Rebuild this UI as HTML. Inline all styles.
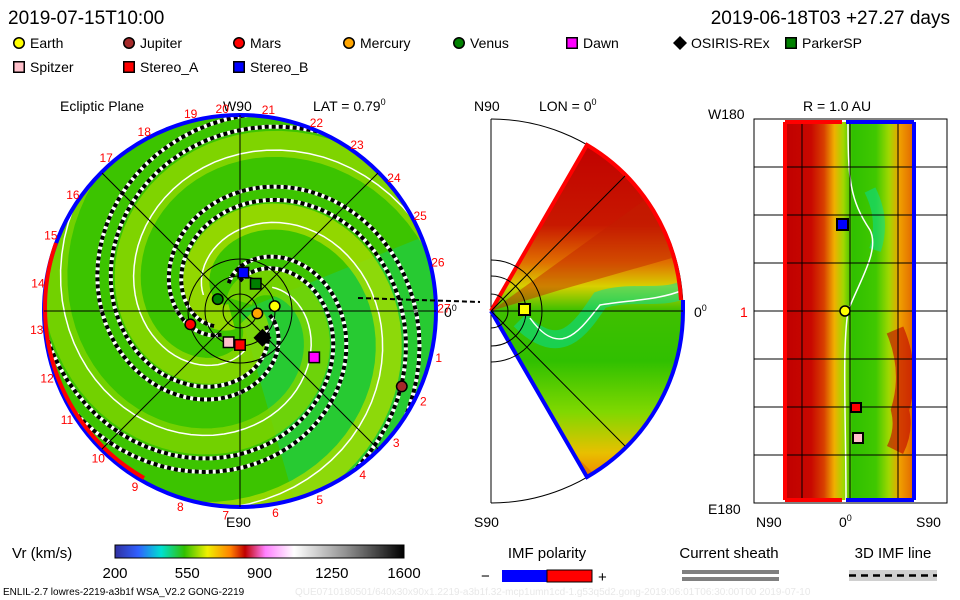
<!DOCTYPE html>
<html><head><meta charset="utf-8">
<style>
body{margin:0;background:#fff;width:960px;height:600px;overflow:hidden;font-family:"Liberation Sans",sans-serif}
svg{display:block}
text{font-family:"Liberation Sans",sans-serif}
</style></head><body>
<svg id="chart" width="960" height="600" viewBox="0 0 960 600">
<defs>
<clipPath id="circ"><circle cx="240" cy="311" r="196"/></clipPath>
<clipPath id="wedge"><path d="M491,311 L587,145 A192,192 0 0 1 683,311 A192,192 0 0 1 587,477 Z"/></clipPath>
<linearGradient id="cbar" x1="0" x2="1">
<stop offset="0" stop-color="#3030a0"/><stop offset="0.08" stop-color="#3060ff"/><stop offset="0.16" stop-color="#00e0d0"/><stop offset="0.24" stop-color="#30c000"/><stop offset="0.32" stop-color="#f0f000"/><stop offset="0.40" stop-color="#ff8000"/><stop offset="0.45" stop-color="#c00000"/><stop offset="0.52" stop-color="#ff80ff"/><stop offset="0.62" stop-color="#ffffff"/><stop offset="0.8" stop-color="#909090"/><stop offset="1" stop-color="#000000"/>
</linearGradient>
<linearGradient id="wedgeGrad" x1="0" y1="0" x2="0" y2="1">
<stop offset="0" stop-color="#c00000"/><stop offset="0.25" stop-color="#c81800"/><stop offset="0.36" stop-color="#e07000"/><stop offset="0.43" stop-color="#d8d000"/><stop offset="0.5" stop-color="#40c000"/><stop offset="0.65" stop-color="#30c000"/><stop offset="0.8" stop-color="#80d800"/><stop offset="0.92" stop-color="#e8c000"/><stop offset="1" stop-color="#f08000"/>
</linearGradient>
<linearGradient id="stripGrad" x1="0" x2="1">
<stop offset="0" stop-color="#c00000"/><stop offset="0.2" stop-color="#c80800"/><stop offset="0.3" stop-color="#d84000"/><stop offset="0.38" stop-color="#f0b000"/><stop offset="0.45" stop-color="#a0d800"/><stop offset="0.52" stop-color="#30c000"/><stop offset="0.7" stop-color="#40c800"/><stop offset="0.8" stop-color="#a0d800"/><stop offset="0.88" stop-color="#f0a000"/><stop offset="1" stop-color="#e06000"/>
</linearGradient>
</defs>

<text x="8" y="24" font-size="19">2019-07-15T10:00</text>
<text x="950" y="24" font-size="19" text-anchor="end">2019-06-18T03 +27.27 days</text>

<g id="legend" font-size="14"></g>

<!-- ecliptic panel -->
<text x="60" y="111" font-size="14">Ecliptic Plane</text>
<text x="223" y="111" font-size="14">W90</text>
<text x="313" y="111" font-size="14">LAT = 0.79<tspan dy="-6" font-size="9">0</tspan></text>
<g clip-path="url(#circ)">
<circle cx="240" cy="311" r="196" fill="#3cc400"/>
<path d="M240,311 L440,230 L440,520 L300,520 Z" fill="#00d890" opacity="0.35"/>
<g id="bands"></g>
<g id="spirals"></g>
</g>
<circle cx="240" cy="311" r="196" fill="none" stroke="#0000ff" stroke-width="4"/>
<path d="M56,243 A196,196 0 0 0 144,478" fill="none" stroke="#ff0000" stroke-width="4"/>
<g stroke="#000" stroke-width="1" fill="none">
<line x1="240" y1="115" x2="240" y2="507"/><line x1="44" y1="311" x2="436" y2="311"/>
<line x1="102" y1="173" x2="378" y2="449"/><line x1="378" y1="173" x2="102" y2="449"/>
<circle cx="240" cy="311" r="17"/><circle cx="240" cy="311" r="35"/><circle cx="240" cy="311" r="52"/>
</g>
<line x1="358" y1="298" x2="480" y2="302" stroke="#000" stroke-width="2" stroke-dasharray="5,3"/>
<text x="444" y="317" font-size="14">0<tspan dy="-6" font-size="9">0</tspan></text>
<text x="226" y="527" font-size="14">E90</text>
<g id="ticks" fill="#ff0000" font-size="12"></g>
<g id="markers"></g>

<!-- meridional panel -->
<text x="474" y="111" font-size="14">N90</text>
<text x="539" y="111" font-size="14">LON = 0<tspan dy="-6" font-size="9">0</tspan></text>
<g>
<path d="M491,119 L491,503" stroke="#000" fill="none"/>
<path d="M491,119 A192,192 0 0 1 491,503" stroke="#000" fill="none"/>
<g clip-path="url(#wedge)">
<rect x="490" y="140" width="200" height="340" fill="url(#wedgeGrad)"/>
<path d="M491,311 L700,160 L700,250 L560,290 Z" fill="#c02000" opacity="0.45"/>
<path d="M491,370 L560,440 L600,480 L491,480 Z" fill="#d05000" opacity="0.4"/>
<path d="M520,320 C560,360 580,330 600,300 C630,290 660,300 683,290" stroke="#00e0a0" stroke-width="18" fill="none" opacity="0.5"/>
<path d="M530,318 C560,360 580,330 600,305 C630,300 660,300 683,290" stroke="#fff" stroke-width="1.5" fill="none"/>
</g>
<path d="M491,311 L587,145 A192,192 0 0 1 681,300" stroke="#ff0000" stroke-width="4" fill="none"/>
<path d="M491,311 L587,477 A192,192 0 0 0 683,311 L683,300" stroke="#0000ff" stroke-width="4" fill="none"/>
<g stroke="#000" fill="none">
<line x1="491" y1="311" x2="683" y2="311"/><line x1="491" y1="311" x2="625" y2="176"/><line x1="491" y1="311" x2="625" y2="446"/>
<path d="M491,260 A51,51 0 0 1 491,362"/><path d="M491,276 A35,35 0 0 1 491,346"/><path d="M491,294 A17,17 0 0 1 491,328"/>
</g>
<rect x="519" y="304" width="11" height="11" fill="#ffff00" stroke="#000" stroke-width="2"/>
</g>
<text x="694" y="317" font-size="14">0<tspan dy="-6" font-size="9">0</tspan></text>
<text x="474" y="527" font-size="14">S90</text>

<!-- radial panel -->
<text x="803" y="111" font-size="14">R = 1.0 AU</text>
<text x="708" y="119" font-size="14">W180</text>
<text x="708" y="514" font-size="14">E180</text>
<text x="740" y="317" font-size="14" fill="#ff0000">1</text>
<g>
<rect x="754" y="119" width="193" height="384" fill="#fff" stroke="#000"/>
<rect x="785" y="122" width="130" height="378" fill="url(#stripGrad)"/>
<path d="M895,330 Q912,370 900,410 Q905,430 895,450" stroke="#c00000" stroke-width="18" fill="none" opacity="0.6"/>
<path d="M870,190 Q885,220 875,250" stroke="#00e0a0" stroke-width="12" fill="none" opacity="0.5"/>
<path d="M848,122 C848,180 850,200 870,230 C880,250 860,280 848,311 C842,350 846,420 846,500" stroke="#fff" stroke-width="1.5" fill="none"/>
<g id="rgrid" stroke="#000"></g>
<line x1="785" y1="122" x2="785" y2="500" stroke="#ff0000" stroke-width="4"/>
<line x1="785" y1="122" x2="842" y2="122" stroke="#ff0000" stroke-width="4"/>
<line x1="785" y1="500" x2="842" y2="500" stroke="#ff0000" stroke-width="4"/>
<line x1="914" y1="122" x2="914" y2="500" stroke="#0000ff" stroke-width="4"/>
<line x1="846" y1="122" x2="914" y2="122" stroke="#0000ff" stroke-width="4"/>
<line x1="846" y1="500" x2="914" y2="500" stroke="#0000ff" stroke-width="4"/>
<rect x="837" y="219" width="11" height="11" fill="#0000ff" stroke="#000" stroke-width="2"/>
<circle cx="845" cy="311" r="5" fill="#ffff00" stroke="#000" stroke-width="1.5"/>
<rect x="851" y="403" width="10" height="9" fill="#ff0000" stroke="#000" stroke-width="2"/>
<rect x="853" y="433" width="10" height="10" fill="#ffc0cb" stroke="#000" stroke-width="2"/>
</g>
<text x="756" y="527" font-size="14">N90</text>
<text x="839" y="527" font-size="14">0<tspan dy="-6" font-size="9">0</tspan></text>
<text x="916" y="527" font-size="14">S90</text>

<!-- bottom legend -->
<text x="12" y="558" font-size="15">Vr (km/s)</text>
<rect x="115" y="545" width="289" height="13" fill="url(#cbar)" stroke="#000"/>
<g id="cticks" font-size="15" text-anchor="middle"></g>
<text x="547" y="558" font-size="15" text-anchor="middle">IMF polarity</text>
<text x="481" y="581" font-size="15">−</text>
<rect x="502" y="570" width="45" height="12" fill="#0000ff"/>
<rect x="547" y="570" width="45" height="12" fill="#ff0000" stroke="#000"/>
<text x="598" y="582" font-size="15">+</text>
<text x="729" y="558" font-size="15" text-anchor="middle">Current sheath</text>
<rect x="682" y="570" width="97" height="4" fill="#808080"/>
<rect x="682" y="577" width="97" height="4" fill="#808080"/>
<text x="893" y="558" font-size="15" text-anchor="middle">3D IMF line</text>
<rect x="849" y="570" width="88" height="11" fill="#d0d0d0"/>
<line x1="849" y1="575.5" x2="937" y2="575.5" stroke="#000" stroke-width="2.5" stroke-dasharray="7,5"/>
<text x="3" y="595" font-size="10">ENLIL-2.7 lowres-2219-a3b1f WSA_V2.2 GONG-2219</text>
<text x="295" y="595" font-size="10" fill="#e8e8e8">QUE0710180501/640x30x90x1.2219-a3b1f.32-mcp1umn1cd-1.g53q5d2.gong-2019:06:01T06:30:00T00   2019-07-10</text>
</svg>
<script>
const NS="http://www.w3.org/2000/svg";
const legendNames=["Earth","Jupiter","Mars","Mercury","Venus","Dawn","OSIRIS-REx","ParkerSP","Spitzer","Stereo_A","Stereo_B"];
const legendColors=["#ffff00","#a52a2a","#ff0000","#ffa500","#008000","#ff00ff","#000000","#008000","#ffc0cb","#ff0000","#0000ff"];
const legendShapes=["c","c","c","c","c","s","d","s","s","s","s"];
const legendX=[12,122,232,342,452,565,673,784,12,122,232];
const legendY=[48,48,48,48,48,48,48,48,72,72,72];
// markers in ecliptic plane: screen angle (deg, clockwise from +x) and radius in AU (1 AU = 35px)
const mkAngle=[-8,25,165,8,-152,32,50,-60,110,90,-85];
const mkRadius=[1.0,5.1,1.47,0.5,0.72,2.5,1.0,0.9,0.95,0.97,1.1];
const spiralPhase=[-40,80,200];
const bandPhase=[10,130,250];
const bandColor=["#90d800","#a8dc00","#80d400"];
const tickLabels=["20","21","22","23","24","25","26","27","1","2","3","4","5","6","7","8","9","10","11","12","13","14","15","16","17","18","19"];
const tickAngle=[-95,-82,-68,-55,-41,-28,-14,-1,13,26,40,53,67,80,94,107,121,134,148,161,175,188,202,215,229,242,256];
const cbTicks=[200,550,900,1250,1600];
const cx=240,cy=311,R=196,AU=35;
function make(tag,attrs,parent){const e=document.createElementNS(NS,tag);for(const k in attrs)e.setAttribute(k,attrs[k]);parent.appendChild(e);return e;}
function pol(a,r){const t=a*Math.PI/180;return [cx+r*Math.cos(t),cy+r*Math.sin(t)];}
function marker(shape,x,y,color,parent,size){
  let e;
  if(shape==="c") e=make("circle",{cx:x,cy:y,r:size*0.75,fill:color,stroke:"#000","stroke-width":1.5},parent);
  else if(shape==="s") e=make("rect",{x:x-size*0.75,y:y-size*0.75,width:size*1.5,height:size*1.5,fill:color,stroke:"#000","stroke-width":1.5},parent);
  else e=make("path",{d:`M${x},${y-size} L${x+size},${y} L${x},${y+size} L${x-size},${y} Z`,fill:color},parent);
  return e;
}
const lg=document.getElementById("legend");
legendNames.forEach((n,i)=>{
  const m=marker(legendShapes[i],legendX[i]+7,legendY[i]-5,legendColors[i],lg,7);
  
  
  const t=make("text",{x:legendX[i]+18,y:legendY[i]},lg);t.textContent=n;
  
  
});
function spiralPath(ph,r0,r1){let d="";for(let r=r0;r<=r1;r+=3){const a=ph+r/36*180/Math.PI;const [x,y]=pol(a,r);d+=(d?"L":"M")+x.toFixed(1)+","+y.toFixed(1);}return d;}
const bg=document.getElementById("bands");
bandPhase.forEach((p,i)=>{
  const b=make("path",{d:spiralPath(p,10,240),stroke:bandColor[i],"stroke-width":26,fill:"none",opacity:0.8},bg);
  
  
});
const sg=document.getElementById("spirals");
spiralPhase.forEach((p,i)=>{
  const d=spiralPath(p,30,200);
  const w=make("path",{d,stroke:"#fff","stroke-width":4,fill:"none"},sg);
  
  
  const k=make("path",{d,stroke:"#000","stroke-width":4,"stroke-dasharray":"4,3",fill:"none"},sg);
  
  
  const d2=spiralPath(p+22,30,200);
  const w2=make("path",{d:d2,stroke:"#fff","stroke-width":4,fill:"none"},sg);
  
  
  const k2=make("path",{d:d2,stroke:"#000","stroke-width":4,"stroke-dasharray":"4,3",fill:"none"},sg);
  
  
  const wl=make("path",{d:spiralPath(p+60,40,200),stroke:"#fff","stroke-width":1.5,fill:"none"},sg);
  
  
});
const tg=document.getElementById("ticks");
tickLabels.forEach((l,i)=>{
  const [x,y]=pol(tickAngle[i],R+8);
  const t=make("text",{x:x,y:y+5,"text-anchor":"middle"},tg);t.textContent=l;
  
  
});
const mg=document.getElementById("markers");
legendNames.forEach((n,i)=>{
  const [x,y]=pol(mkAngle[i],mkRadius[i]*AU);
  const m=marker(legendShapes[i],x,y,legendColors[i],mg,legendShapes[i]==="d"?9:7);
  
  
});
const rg=document.getElementById("rgrid");
for(let k=1;k<8;k++){const l=make("line",{x1:754,x2:947,y1:119+k*48,y2:119+k*48},rg);}
[802,850,898].forEach(x=>{const l=make("line",{x1:x,x2:x,y1:122,y2:500},rg);});
const ct=document.getElementById("cticks");
cbTicks.forEach(v=>{
  const x=115+(v-200)/1400*289;
  const t=make("text",{x:x,y:578},ct);t.textContent=v;
  
  
});
</script>
</body></html>
